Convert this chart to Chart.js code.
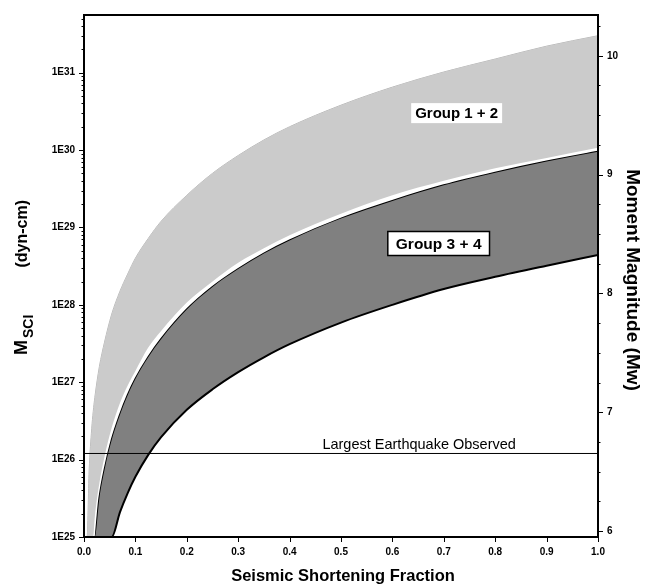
<!DOCTYPE html>
<html><head><meta charset="utf-8">
<script src="https://cdn.jsdelivr.net/npm/chart.js@4.4.0/dist/chart.umd.min.js"></script>
<style>html,body{margin:0;padding:0;background:#fff}#wrap{width:645px;height:588px}</style>
</head><body><div id="wrap"><canvas id="c" width="645" height="588"></canvas></div>
<script>
// Seismic shortening fraction (x)
const fraction = [0, 0.006, 0.01, 0.015, 0.018, 0.021, 0.03, 0.04, 0.054, 0.07, 0.085, 0.1, 0.125, 0.15, 0.2, 0.25, 0.3, 0.35, 0.4, 0.5, 0.6, 0.7, 0.8, 0.9, 1.0];
// Msci (dyn-cm), band boundaries (1e25 = axis floor)
const group12Upper = [1e25, 1e25, 7.1e25, 2.5e26, 4.2e26, 6.3e26, 1.6e27, 3.3e27, 7.6e27, 1.5e28, 2.5e28, 4.0e28, 7.2e28, 1.2e29, 2.6e29, 5.0e29, 8.5e29, 1.35e30, 2.0e30, 3.8e30, 6.5e30, 1.02e31, 1.5e31, 2.2e31, 3.0e31];
const group12Lower = [1e25, 1e25, 1e25, 1e25, 1e25, 1.8e25, 5.0e25, 1.1e26, 2.6e26, 5.4e26, 9.1e26, 1.4e27, 2.8e27, 4.6e27, 1.07e28, 2.0e28, 3.5e28, 5.4e28, 7.9e28, 1.5e29, 2.6e29, 4.0e29, 5.8e29, 7.9e29, 1.07e30];
const group34Upper = [1e25, 1e25, 1e25, 1e25, 1e25, 1e25, 3.2e25, 7.4e25, 1.8e26, 3.8e26, 6.8e26, 1.1e27, 2.1e27, 3.6e27, 8.7e27, 1.7e28, 2.9e28, 4.6e28, 6.8e28, 1.3e29, 2.2e29, 3.5e29, 5.1e29, 7.1e29, 9.5e29];
const group34Lower = [1e25, 1e25, 1e25, 1e25, 1e25, 1e25, 1e25, 1e25, 1e25, 2.1e25, 3.7e25, 6.0e25, 1.15e26, 1.95e26, 4.4e26, 8.1e26, 1.35e27, 2.1e27, 3.1e27, 5.9e27, 1.0e28, 1.6e28, 2.3e28, 3.2e28, 4.4e28];
const largestObserved = 1.2e26;
const xTicks = [0, 0.1, 0.2, 0.3, 0.4, 0.5, 0.6, 0.7, 0.8, 0.9, 1.0];
const momentDecades = [25, 26, 27, 28, 29, 30, 31];
const magnitudeTicks = [6, 7, 8, 9, 10];

const pts = arr => fraction.map((f, i) => ({x: f, y: arr[i]}));
const FONT = '"Liberation Sans", Arial, Helvetica, sans-serif';

const decorPlugin = {
  id: 'decor',
  afterDatasetsDraw(chart) {
    const {ctx, scales: {x, y}} = chart;
    ctx.save();
    const ly = y.getPixelForValue(largestObserved);
    ctx.fillStyle = '#000';
    ctx.font = '14.5px ' + FONT;
    ctx.textAlign = 'center';
    ctx.textBaseline = 'alphabetic';
    ctx.fillText('Largest Earthquake Observed', x.getPixelForValue(0.652), ly - 4);
    const box = (txt, cx, cy, size, padX, h, border) => {
      ctx.font = 'bold ' + size + 'px ' + FONT;
      const w = ctx.measureText(txt).width + 2 * padX;
      ctx.fillStyle = '#fff';
      ctx.fillRect(cx - w / 2, cy - h / 2, w, h);
      if (border) { ctx.lineWidth = 1.5; ctx.strokeStyle = '#000'; ctx.strokeRect(cx - w / 2, cy - h / 2, w, h); }
      ctx.fillStyle = '#000';
      ctx.textAlign = 'center'; ctx.textBaseline = 'middle';
      ctx.fillText(txt, cx, cy + 1);
    };
    box('Group 1 + 2', x.getPixelForValue(0.725), y.getPixelForValue(3.0e30), 15, 4, 20, false);
    box('Group 3 + 4', x.getPixelForValue(0.69), y.getPixelForValue(6.2e28), 15.5, 8, 24, true);
    ctx.restore();
  },
  afterDraw(chart) {
    const {ctx, chartArea: a, scales: {x, y, y2}} = chart;
    ctx.save();
    ctx.strokeStyle = '#000';
    ctx.lineWidth = 2;
    ctx.strokeRect(a.left, a.top, a.right - a.left, a.bottom - a.top);
    ctx.lineWidth = 1;
    ctx.beginPath();
    momentDecades.forEach(d => {
      for (let m = 1; m <= 9; m++) {
        const v = m * Math.pow(10, d);
        if (v < y.min || v > y.max) continue;
        const p = Math.round(y.getPixelForValue(v)) + 0.5;
        const len = m === 1 ? 5 : 2.5;
        ctx.moveTo(a.left - len, p); ctx.lineTo(a.left, p);
      }
    });
    for (let mw = 6; mw <= 10.25; mw += 0.25) {
      const p = Math.round(y2.getPixelForValue(mw)) + 0.5;
      const len = Number.isInteger(mw) ? 5 : 2.5;
      ctx.moveTo(a.right, p); ctx.lineTo(a.right + len, p);
    }
    xTicks.forEach(t => {
      const p = Math.round(x.getPixelForValue(t)) + 0.5;
      ctx.moveTo(p, a.bottom); ctx.lineTo(p, a.bottom + 5);
    });
    ctx.stroke();
    ctx.fillStyle = '#000';
    ctx.font = 'bold 16.5px ' + FONT;
    ctx.textAlign = 'center'; ctx.textBaseline = 'alphabetic';
    ctx.fillText('Seismic Shortening Fraction', 343, 581);
    ctx.save();
    ctx.translate(632, 280);
    ctx.rotate(Math.PI / 2);
    ctx.font = 'bold 19px ' + FONT;
    ctx.textAlign = 'center'; ctx.textBaseline = 'middle';
    ctx.fillText('Moment Magnitude (Mw)', 0, 0);
    ctx.restore();
    ctx.save();
    ctx.translate(27, 355);
    ctx.rotate(-Math.PI / 2);
    ctx.textBaseline = 'alphabetic';
    ctx.textAlign = 'left';
    ctx.font = 'bold 18px ' + FONT;
    ctx.fillText('M', 0, 0);
    const wM = ctx.measureText('M').width;
    ctx.font = 'bold 14px ' + FONT;
    ctx.fillText('SCI', wM + 2, 6);
    ctx.font = 'bold 16px ' + FONT;
    ctx.textAlign = 'right';
    ctx.fillText('(dyn-cm)', 155, 0);
    ctx.restore();
    ctx.restore();
  }
};

new Chart(document.getElementById('c'), {
  type: 'line',
  data: {
    datasets: [
      {label: 'Group 1 + 2 upper', data: pts(group12Upper), borderWidth: 1, borderColor: '#b4b4b4', pointRadius: 0, fill: false, cubicInterpolationMode: 'monotone', order: 4},
      {label: 'Group 1 + 2 lower', data: pts(group12Lower), borderWidth: 0, borderColor: 'rgba(0,0,0,0)', pointRadius: 0, fill: '-1', backgroundColor: '#cbcbcb', cubicInterpolationMode: 'monotone', order: 3},
      {label: 'Group 3 + 4 upper', data: pts(group34Upper), borderWidth: 2, borderColor: '#000', pointRadius: 0, fill: false, cubicInterpolationMode: 'monotone', order: 2},
      {label: 'Group 3 + 4 lower', data: pts(group34Lower), borderWidth: 2, borderColor: '#000', pointRadius: 0, fill: '-1', backgroundColor: '#808080', cubicInterpolationMode: 'monotone', order: 1},
      {label: 'Largest Earthquake Observed', data: [{x: 0, y: largestObserved}, {x: 1, y: largestObserved}], borderWidth: 1, borderColor: '#000', pointRadius: 0, fill: false, order: 0}
    ]
  },
  options: {
    responsive: false,
    animation: false,
    devicePixelRatio: 1,
    layout: {padding: {top: 12, left: 0, right: 0, bottom: 0}},
    plugins: {legend: {display: false}, tooltip: {enabled: false}},
    scales: {
      x: {
        type: 'linear', min: 0, max: 1, position: 'bottom',
        grid: {display: false, drawTicks: false}, border: {display: false},
        afterBuildTicks: s => { s.ticks = xTicks.map(v => ({value: v})); },
        ticks: {callback: v => v.toFixed(1), color: '#000', font: {family: FONT, size: 10, weight: 'bold'}, padding: 9, maxRotation: 0, autoSkip: false},
        afterFit: s => { s.height = 51; }
      },
      y: {
        type: 'logarithmic', min: 1e25, max: 5.56e31, position: 'left',
        grid: {display: false, drawTicks: false}, border: {display: false},
        afterBuildTicks: s => { s.ticks = momentDecades.map(d => ({value: Math.pow(10, d)})); },
        ticks: {callback: v => '1E' + Math.round(Math.log10(v)), color: '#000', font: {family: FONT, size: 10, weight: 'bold'}, padding: 9, autoSkip: false},
        afterFit: s => { s.width = 84; }
      },
      y2: {
        type: 'linear', min: 5.95, max: 10.343, position: 'right',
        grid: {display: false, drawTicks: false}, border: {display: false},
        afterBuildTicks: s => { s.ticks = magnitudeTicks.map(v => ({value: v})); },
        ticks: {callback: v => String(v), color: '#000', font: {family: FONT, size: 10, weight: 'bold'}, padding: 9, autoSkip: false},
        afterFit: s => { s.width = 47; }
      }
    }
  },
  plugins: [decorPlugin]
});
</script></body></html>
